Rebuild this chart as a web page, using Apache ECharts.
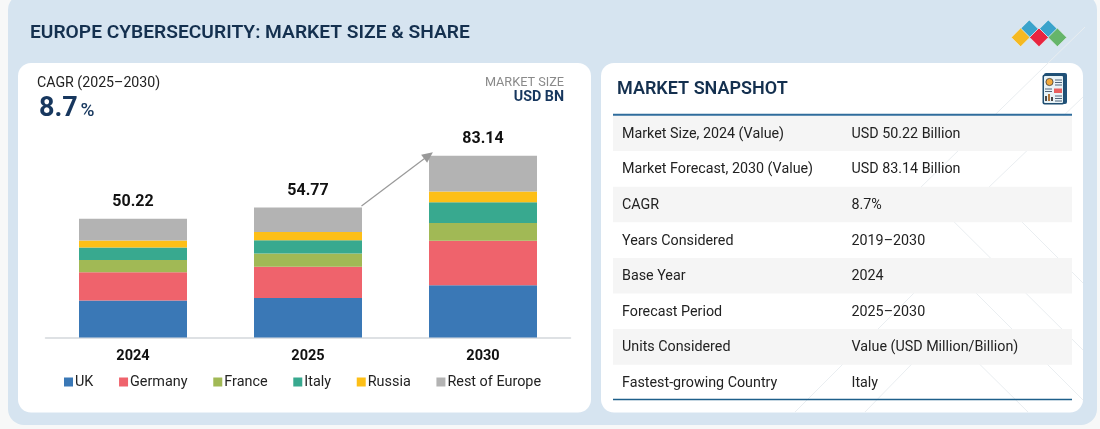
<!DOCTYPE html>
<html><head><meta charset="utf-8">
<script src="https://cdn.jsdelivr.net/npm/echarts@6/dist/echarts.min.js"></script>
<style>html,body{margin:0;padding:0;background:#f7f8f8}#c{width:1100px;height:429px}</style>
</head><body><div id="c"></div>
<script>
const years = ['2024','2025','2030'];
const totals = [50.22, 54.77, 83.14];
const UK = [16.9, 18.1, 23.9];
const Germany = [12.9, 14.2, 20.3];
const France = [5.6, 6.1, 8.1];
const Italy = [5.7, 6.1, 9.5];
const Russia = [3.3, 3.7, 5.0];
const RestOfEurope = [9.9, 11.2, 16.34];
const seriesNames = ['UK','Germany','France','Italy','Russia','Rest of Europe'];
const seriesValues = [UK, Germany, France, Italy, Russia, RestOfEurope];
const colors = ['#3a78b6','#ef636c','#a1b955','#38a98f','#fdbf17','#b3b3b3'];
const rowLabels = ['Market Size, 2024 (Value)','Market Forecast, 2030 (Value)','CAGR','Years Considered','Base Year','Forecast Period','Units Considered','Fastest-growing Country'];
const rowValues = ['USD 50.22 Billion','USD 83.14 Billion','8.7%','2019–2030','2024','2025–2030','Value (USD Million/Billion)','Italy'];

const FONT = 'Roboto';
const txt = (x,y,text,size,weight,fill,align) => ({type:'text',x,y:y+1,silent:true,style:{text,font:`${weight} ${size}px ${FONT}`,fill,align:align||'left',verticalAlign:'middle'}});
const rect = (x,y,w,h,fill,r,extra) => Object.assign({type:'rect',silent:true,shape:{x,y,width:w,height:h,r:r||0},style:{fill}},extra||{});
const seg = (x1,y1,x2,y2,stroke,lw) => ({type:'line',silent:true,shape:{x1,y1,x2,y2},style:{stroke,lineWidth:lw||1}});
const diamond = (cx,cy,fill) => { const s=9.4; return {type:'polygon',silent:true,shape:{points:[[cx,cy-s],[cx+s,cy],[cx,cy+s],[cx-s,cy]]},style:{fill,stroke:'#e6eef5',lineWidth:.8}}; };

const g = [];
g.push(rect(8,-6,1089,431,'#d6e4f0',16));
g.push(rect(18,63,573,349.5,'#ffffff',13));
g.push(rect(601,63,482,349.5,'#ffffff',13));
// faint background lattice
[[920,188,1085,27],[988,188,1083,97],[920,188,1083,350],[988,188,1083,283],[945,262,795,412],[945,262,1083,400],[945,330,865,412],[945,330,1028,412]].forEach(l=>g.push(seg(l[0],l[1],l[2],l[3],'#eaeef1',1)));
g.push(txt(30,32.5,'EUROPE CYBERSECURITY: MARKET SIZE & SHARE',19.2,'600','#14304f'));
[[1029.3,29.3,'#3aa3cb'],[1048.3,29.3,'#3aa3cb'],[1020.6,37.4,'#f5b921'],[1057.4,37.4,'#66b56a'],[1039,37.4,'#e8243f']].forEach(d=>g.push(diamond(d[0],d[1],d[2])));
// left card texts
g.push(txt(37,82.5,'CAGR (2025–2030)',14.2,'400','#222'));
g.push(txt(39,108,'8.7',27,'700','#17375e'));
g.push(txt(80.5,110,'%',19,'500','#17375e'));
g.push(txt(564,81.5,'MARKET SIZE',12.7,'400','#8a8a8a','right'));
g.push(txt(564,96.5,'USD BN',14.3,'700','#17375e','right'));
// snapshot table
g.push(txt(617,88,'MARKET SNAPSHOT',18,'600','#14304f'));
const rowTop = 115.5, rowH = 35.6;
rowLabels.forEach((lab,i)=>{
  if(i%2===0) g.push(rect(613,rowTop+i*rowH,459,rowH,'#f5f5f5'));
  const cy = rowTop+i*rowH+rowH/2;
  g.push(txt(622,cy,lab,14.3,'400','#222'));
  g.push(txt(851.5,cy,rowValues[i],14.3,'400','#222'));
});
g.push(seg(613,114.8,1072,114.8,'#2f6c9c',2));
g.push(seg(613,399.4,1072,399.4,'#1e5f8a',1.5));
// report icon
g.push(rect(1044,73,23,31,'#20527a',2));
g.push(rect(1042.5,74.5,22,30,'#1f4e72',2));
g.push(rect(1044,76,19,27,'#e9f3f7',1));
g.push({type:'circle',silent:true,shape:{cx:1049.5,cy:82,r:3.6},style:{fill:'#f3a93b',stroke:'#3a3a3a',lineWidth:.8}});
[[1055,79.5],[1055,82],[1055,84.5]].forEach(p=>g.push(rect(p[0],p[1],7,1,'#51657a')));
g.push(rect(1054,88.5,8,4.5,'#e9605f'));
[[1045,88.5],[1045,91]].forEach(p=>g.push(rect(p[0],p[1],7,1,'#51657a')));
[[1045,96,2,5,'#4a4a4a'],[1048,94,2,7,'#b0753a'],[1051,97,2,4,'#4a4a4a']].forEach(b=>g.push(rect(b[0],b[1],b[2],b[3],b[4])));
[[1055,95.5],[1055,98],[1055,100.5]].forEach(p=>g.push(rect(p[0],p[1],7,1,'#51657a')));

const series = seriesNames.map((name,i)=>{
  const s = {name,type:'bar',stack:'t',barWidth:108,data:seriesValues[i],itemStyle:{color:colors[i]},silent:true,animation:false};
  if(i===seriesNames.length-1){
    s.label={show:true,position:'top',distance:9,formatter:p=>totals[p.dataIndex].toFixed(2),fontFamily:FONT,fontWeight:700,fontSize:16,color:'#111'};
    s.markLine={silent:true,animation:false,symbol:['none','triangle'],symbolSize:[10,11],label:{show:false},
      lineStyle:{color:'#999',width:1.2,type:'solid'},data:[[{x:361.5,y:206},{x:428.5,y:155.5}]]};
  }
  return s;
});

const chart = echarts.init(document.getElementById('c'),null,{renderer:'canvas'});
chart.setOption({
  animation:false,
  backgroundColor:'transparent',
  textStyle:{fontFamily:FONT},
  graphic:{elements:g},
  grid:{left:45.5,width:525,top:118.8,height:218.7,containLabel:false},
  xAxis:{type:'category',data:years,axisTick:{show:false},axisLine:{lineStyle:{color:'#d4d8dc',width:1.5}},
    axisLabel:{margin:11,color:'#111',fontFamily:FONT,fontWeight:700,fontSize:14.5}},
  yAxis:{type:'value',min:0,max:100,show:false,splitLine:{show:false}},
  legend:{left:59,top:370,icon:'rect',itemWidth:9,itemHeight:9,itemGap:25.7,selectedMode:false,
    data:seriesNames,textStyle:{fontFamily:FONT,fontSize:14.4,color:'#222',padding:[0,0,0,-3]}},
  series
});
</script></body></html>
